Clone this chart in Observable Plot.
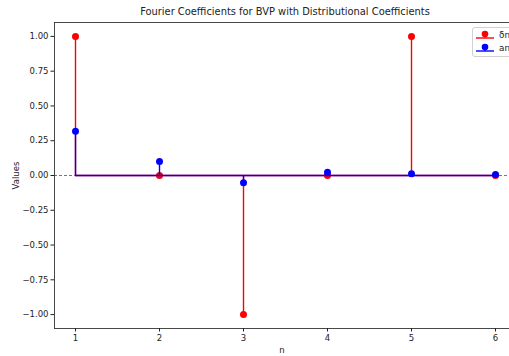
<!DOCTYPE html>
<html>
<head>
<meta charset="utf-8">
<script src="https://cdn.jsdelivr.net/npm/d3@7"></script>
<script src="https://cdn.jsdelivr.net/npm/@observablehq/plot@0.6"></script>
<style>
  html, body { margin: 0; padding: 0; background: #fff; overflow: hidden; }
  #wrap { position: relative; width: 509px; height: 356px; font-family: "DejaVu Sans", sans-serif; }
  #title { height: 21px; line-height: 24px; font-size: 9.9px; color: #222; text-align: center; width: 462px; margin-left: 54px; white-space: nowrap; }
  #legend { position: absolute; left: 472px; top: 27px; width: 60px; height: 28px; border: 1px solid #d0d0d0; border-radius: 3px; background: rgba(255,255,255,0.85); font-size: 8.8px; color: #222; }
  .entry { position: absolute; left: 3px; display: flex; align-items: center; }
  .entry span { margin-left: 5px; }
</style>
</head>
<body>
<div id="wrap">
  <div id="title">Fourier Coefficients for BVP with Distributional Coefficients</div>
  <div id="chart"></div>
  <div id="legend"></div>
</div>
<script>
const n = [1, 2, 3, 4, 5, 6];
const deltaN = [1, 0, -1, 0, 1, 0];
const aN = [0.318, 0.10, -0.053, 0.024, 0.012, 0.007];
const yTicks = [-1, -0.75, -0.5, -0.25, 0, 0.25, 0.5, 0.75, 1];
const xTicks = [1, 2, 3, 4, 5, 6];
const seriesNames = ["δn", "an"];
const seriesColors = ["#ff0000", "#0000ff"];

const red = n.map((v, i) => ({n: v, y: deltaN[i]}));
const blue = n.map((v, i) => ({n: v, y: aN[i]}));

function stemMarks(data, color) {
  return [
    Plot.ruleX(data, {x: "n", y1: 0, y2: "y", stroke: color, strokeWidth: 1.4}),
    Plot.dot(data, {x: "n", y: "y", r: 3.5, fill: color, stroke: "none"}),
    Plot.ruleY([0], {x1: d3.min(data, d => d.n), x2: d3.max(data, d => d.n), stroke: color, strokeWidth: 1.4})
  ];
}

const chart = Plot.plot({
  width: 509,
  height: 335,
  marginLeft: 54,
  marginRight: 0,
  marginTop: 1,
  marginBottom: 28,
  style: {fontFamily: "DejaVu Sans, sans-serif", fontSize: "8.5px", color: "#222", background: "white", overflow: "visible"},
  x: {domain: [0.75, 6.25], range: [54, 516]},
  y: {domain: [-1.1, 1.1]},
  marks: [
    Plot.ruleY([0], {stroke: "#666", strokeWidth: 0.9, strokeDasharray: "3,2"}),
    ...stemMarks(red, seriesColors[0]),
    ...stemMarks(blue, seriesColors[1]),
    Plot.frame({anchor: "left", stroke: "#333", strokeWidth: 0.9}),
    Plot.frame({anchor: "bottom", stroke: "#333", strokeWidth: 0.9}),
    Plot.frame({anchor: "top", stroke: "#333", strokeWidth: 0.9}),
    Plot.axisY({ticks: yTicks, tickFormat: d3.format(".2f"), tickSize: 3.5, tickPadding: 2.5, label: "Values", labelAnchor: "center", labelArrow: "none", labelOffset: 42}),
    Plot.axisX({ticks: xTicks, tickFormat: d3.format("d"), tickSize: 3.5, tickPadding: 3, label: "n", labelAnchor: "center", labelArrow: "none", labelOffset: 24})
  ]
});
document.getElementById("chart").appendChild(chart);

const legend = document.getElementById("legend");
seriesNames.forEach((name, i) => {
  const e = document.createElement("div");
  e.className = "entry";
  e.style.top = (i === 0 ? 1 : 14) + "px";
  e.innerHTML = `<svg width="18" height="12"><line x1="0" x2="18" y1="9" y2="9" stroke="${seriesColors[i]}" stroke-width="1.4"/><line x1="9" x2="9" y1="9" y2="5" stroke="${seriesColors[i]}" stroke-width="1.4"/><circle cx="9" cy="5" r="3.3" fill="${seriesColors[i]}"/></svg><span>${name}</span>`;
  legend.appendChild(e);
});
</script>
</body>
</html>
